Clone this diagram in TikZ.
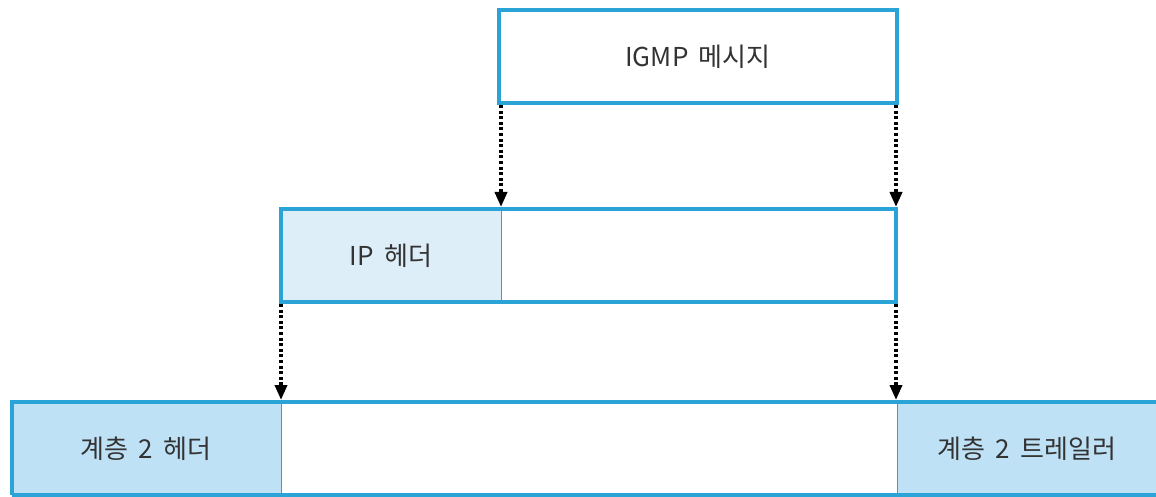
\documentclass[tikz,border=0pt]{standalone}
\usepackage{fontspec}
\setmainfont{Noto Sans CJK KR}
\usetikzlibrary{arrows.meta}
\definecolor{frame}{HTML}{2AA3D6}
\definecolor{lightfill}{HTML}{DEEEF9}
\definecolor{midfill}{HTML}{BFE1F6}
\definecolor{txt}{HTML}{333333}
\tikzset{
  x=1pt, y=-1pt,
  lbl/.style={font=\fontsize{26}{28}\selectfont, text=txt, inner sep=0pt},
  outer/.style={draw=frame, line width=3.6pt, fill=white},
  cell/.style={draw=frame, line width=1pt},
  flow/.style={draw=black, line width=3.6pt, dash pattern=on 3pt off 2.6pt,
    -{Triangle[length=15pt,width=12pt]}}
}
\begin{document}
\begin{tikzpicture}
\useasboundingbox (0,0) rectangle (1156,497);
% top box
\draw[outer] (499,10) rectangle (897,103);
\coordinate (tl) at (501,105);
\coordinate (tr) at (896,105);
\node[lbl] (igmp) at (698,57) {IGMP\hspace{0.4em}메시지};
% IP row
\fill[lightfill] (281,209) rectangle (501,302);
\draw[cell] (501,209) -- (501,302);
\draw[draw=frame, line width=3.6pt] (281,209) rectangle (896,302);
\coordinate (ml) at (281,304);
\coordinate (mr) at (896,304);
\coordinate (mtl) at (501,207);
\coordinate (mtr) at (896,207);
\node[lbl] (iph) at (391,256) {IP\hspace{0.4em}헤더};
% bottom row
\fill[midfill] (12,402) rectangle (281,495);
\fill[midfill] (897,402) rectangle (1156,495);
\draw[cell] (281,402) -- (281,495);
\draw[cell] (897,402) -- (897,495);
\draw[draw=frame, line width=3.6pt] (12,495) -- (12,402) -- (1160,402);
\draw[draw=frame, line width=3.6pt] (12,495) -- (1160,495);
\coordinate (bl) at (281,400);
\coordinate (br) at (896,400);
\node[lbl] (l2h) at (146,449) {계층\hspace{0.4em}2\hspace{0.4em}헤더};
\node[lbl] (l2t) at (1027,449) {계층\hspace{0.4em}2\hspace{0.4em}트레일러};
% arrows
\draw[flow] (tl) -- (mtl);
\draw[flow] (tr) -- (mtr);
\draw[flow] (ml) -- (bl);
\draw[flow] (mr) -- (br);
\end{tikzpicture}
\end{document}
